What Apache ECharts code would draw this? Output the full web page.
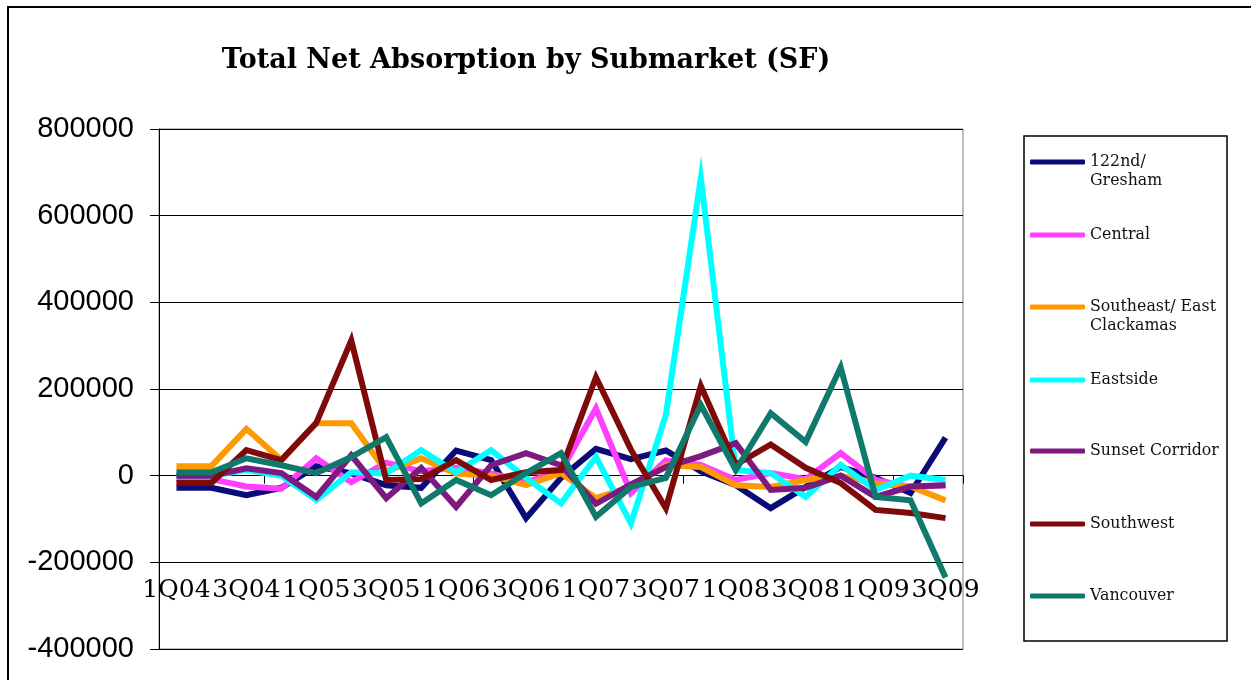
<!DOCTYPE html>
<html>
<head>
<meta charset="utf-8">
<script src="https://cdn.jsdelivr.net/npm/echarts@6/dist/echarts.min.js"></script>
<style>
html,body{margin:0;padding:0;background:#fff;}
#chart{width:1251px;height:680px;}
</style>
</head>
<body>
<div id="chart"></div>
<script>
var quarters = ['1Q04','2Q04','3Q04','4Q04','1Q05','2Q05','3Q05','4Q05','1Q06','2Q06','3Q06','4Q06',
  '1Q07','2Q07','3Q07','4Q07','1Q08','2Q08','3Q08','4Q08','1Q09','2Q09','3Q09'];
var seriesNames = ['122nd/ Gresham','Central','Southeast/ East Clackamas','Eastside','Sunset Corridor','Southwest','Vancouver'];
var legendLabels = ['\n122nd/\nGresham','Central','\nSoutheast/ East\nClackamas','Eastside','Sunset Corridor','Southwest','Vancouver'];
var seriesColors = ['#0a0a78','#ff40ff','#ff9900','#00ffff','#7d1a80','#7f0a0a','#0f7a6c'];
var gresham   = [-28000,-28000,-45000,-28000,22000,5000,-22000,-28000,58000,36000,-98000,-5000,62000,38000,58000,10000,-22000,-75000,-26000,20000,-5000,-40000,88000];
var central   = [-8000,-8000,-25000,-30000,40000,-15000,30000,10000,18000,5000,-15000,10000,155000,-40000,35000,25000,-10000,6000,-8000,52000,-10000,-26000,-22000];
var southeast = [22000,22000,108000,36000,121000,121000,10000,40000,5000,0,-22000,6000,-52000,-26000,24000,20000,-22000,-26000,-10000,0,-18000,-25000,-57000];
var eastside  = [0,0,13000,0,-56000,8000,5000,59000,8000,59000,-5000,-64000,43000,-110000,140000,687000,13000,6000,-49000,25000,-33000,0,-10000];
var sunset    = [0,0,17000,6000,-49000,47000,-52000,18000,-72000,24000,52000,24000,-65000,-20000,20000,45000,75000,-33000,-28000,0,-49000,-25000,-22000];
var southwest = [-17000,-17000,59000,36000,122000,312000,-10000,-8000,36000,-10000,8000,13000,227000,60000,-75000,207000,25000,72000,18000,-17000,-79000,-86000,-98000];
var vancouver = [8000,8000,40000,24000,6000,43000,89000,-64000,-10000,-45000,6000,52000,-95000,-26000,-5000,163000,13000,144000,78000,250000,-49000,-57000,-235000];
var allValues = [gresham, central, southeast, eastside, sunset, southwest, vancouver];
var yTicks = {min:-400000, max:800000, step:200000};
var legendCenters = [162, 235, 307, 380, 451, 524, 596];

var chart = echarts.init(document.getElementById('chart'), null, {renderer:'canvas'});

var series = seriesNames.map(function(n, k){
  return {
    name: n, type: 'line', data: allValues[k], showSymbol: false, symbol: 'none',
    lineStyle: {width: 6, color: seriesColors[k], join: 'miter'},
    itemStyle: {color: seriesColors[k]},
    z: 2 + k
  };
});

var legends = seriesNames.map(function(n, k){
  var lines = legendLabels[k].split('\n').length;
  return {
    data: [n], orient: 'vertical', left: 1030,
    top: legendCenters[k] - lines * 19 / 2,
    padding: 0, icon: 'roundRect', itemWidth: 55, itemHeight: 5,
    formatter: function(){ return legendLabels[k]; },
    textStyle: {fontFamily: 'DejaVu Serif', fontSize: 15.8, color: '#111', lineHeight: 19},
    selectedMode: false
  };
});

chart.setOption({
  animation: false,
  backgroundColor: '#ffffff',
  title: {
    text: 'Total Net Absorption by Submarket (SF)',
    left: 521, top: 42, textAlign: 'center',
    textStyle: {fontFamily: 'DejaVu Serif', fontWeight: 'bold', fontSize: 27, color: '#000'}
  },
  legend: legends,
  grid: {left: 159, right: 288, top: 129, bottom: 31, containLabel: false, outerBoundsMode: 'none',
    show: true, borderColor: '#7f7f7f', borderWidth: 1, backgroundColor: '#ffffff'},
  xAxis: {
    type: 'category', data: quarters, boundaryGap: true,
    axisLine: {onZero: true, lineStyle: {color: '#000', width: 1}},
    axisTick: {show: true, length: 8, interval: function(i){ return i % 6 === 3; }, lineStyle: {color: '#000'}},
    axisLabel: {interval: 1, margin: -71, fontFamily: 'DejaVu Serif', fontSize: 25, color: '#000'},
    splitLine: {show: false}
  },
  yAxis: {
    type: 'value', min: yTicks.min, max: yTicks.max, interval: yTicks.step,
    axisLine: {show: true, lineStyle: {color: '#000', width: 1}},
    axisTick: {show: true, length: 9, lineStyle: {color: '#000'}},
    axisLabel: {margin: 25, fontFamily: 'Liberation Sans', fontSize: 29, color: '#000',
      formatter: function(v){ return String(v); }},
    splitLine: {show: true, lineStyle: {color: '#000', width: 1}}
  },
  graphic: [
    {type: 'rect', shape: {x: 8, y: 7, width: 1260, height: 700}, style: {fill: 'none', stroke: '#000', lineWidth: 2}, z: 100},
    {type: 'rect', shape: {x: 1024, y: 136, width: 203, height: 505}, style: {fill: 'none', stroke: '#000', lineWidth: 1.5}, z: 100}
  ],
  series: series
});
</script>
</body>
</html>
